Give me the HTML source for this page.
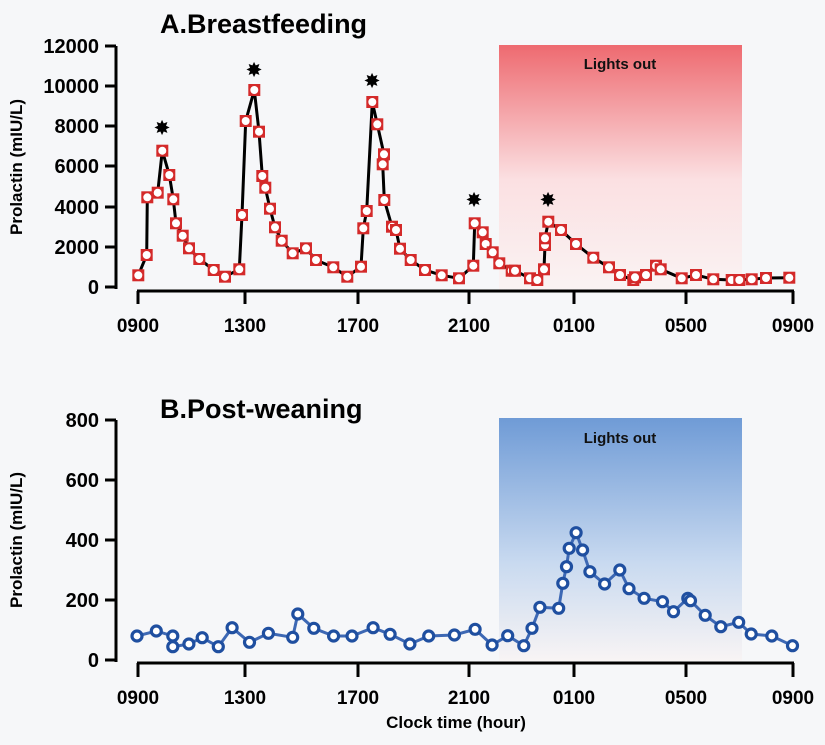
<!DOCTYPE html>
<html><head><meta charset="utf-8"><style>
html,body{margin:0;padding:0;background:#f6f7f9;}
svg{display:block;font-family:"Liberation Sans",sans-serif;font-weight:bold;}
</style></head><body>
<svg width="825" height="745" viewBox="0 0 825 745" xmlns="http://www.w3.org/2000/svg">
<defs>
<linearGradient id="gr" x1="0" y1="0" x2="0" y2="1">
<stop offset="0" stop-color="#ee6a70"/><stop offset="0.55" stop-color="#fbe0e2"/><stop offset="1" stop-color="#faf3f3"/></linearGradient>
<linearGradient id="gb" x1="0" y1="0" x2="0" y2="1">
<stop offset="0" stop-color="#6f9bd6"/><stop offset="0.6" stop-color="#c9daf0"/><stop offset="1" stop-color="#f8f4f4"/></linearGradient>
<g id="m"><rect x="-6" y="-6" width="12" height="12" fill="#d42a2a"/><circle r="4" fill="#fff"/></g>
</defs>
<rect width="825" height="745" fill="#f6f7f9"/>
<!-- Panel A -->
<rect x="499" y="45" width="243" height="245" fill="url(#gr)"/>
<text x="620" y="69" font-size="15" text-anchor="middle" fill="#111">Lights out</text>
<text x="160" y="33" font-size="27" fill="#000">A.Breastfeeding</text>
<g stroke="#000" stroke-width="3" fill="none">
<path d="M116 46V289 M105 46H116 M105 86H116 M105 126H116 M105 166H116 M105 207H116 M105 247H116 M105 287H116"/>
<path d="M137 291H794 M138 291V304 M245 291V304 M358 291V304 M469 291V304 M574 291V304 M686 291V304 M793 291V304"/>
</g>
<g font-size="20" text-anchor="end" fill="#000">
<text x="99" y="53">12000</text><text x="99" y="93">10000</text><text x="99" y="133">8000</text><text x="99" y="173">6000</text><text x="99" y="214">4000</text><text x="99" y="254">2000</text><text x="99" y="294">0</text>
</g>
<g font-size="19" text-anchor="middle" fill="#000">
<text x="138" y="332">0900</text><text x="245" y="332">1300</text><text x="358" y="332">1700</text><text x="469" y="332">2100</text><text x="574" y="332">0100</text><text x="686" y="332">0500</text><text x="793" y="332">0900</text>
</g>
<text transform="translate(22,167) rotate(-90)" font-size="17" text-anchor="middle">Prolactin (mIU/L)</text>
<polyline fill="none" stroke="#000" stroke-width="3" points="138.3,275.3 146.7,255 147.3,197.3 157.7,192.7 162.3,150.7 169.3,175 173.3,199.3 176,223.3 182.7,235.7 189,248.3 199.3,259 213.7,270 225,276.7 239.3,269.3 242,215 245.7,121 254.3,90 259,131.7 262.3,176 265.3,187.7 270,208.7 275,227.3 281.7,240.7 292.7,253.3 306,248.3 316,260 333.3,267.3 347.3,276.7 361,266.7 363.3,228.3 366.7,211 372.3,102 377.3,124.3 384,154.3 382.7,164.3 384.3,200 392,226.7 396,230 400,248.7 410.7,260 425,270 441.7,275.3 459,278.3 473.3,265.7 474.7,223.3 482.7,232.3 485.7,244 492.7,252.3 499.3,263.3 511.7,270.7 515,270.7 530,278.3 537.3,280 544,269.3 545,245 545,238.3 548.3,221.7 561,230 576,244 593.3,257.7 609,267.3 620,275 633.3,280 635,277.3 646,275 656,265.7 660.7,269.3 681.7,278.3 696,275 713.3,279.3 731.7,280 739.3,280 751.7,279.3 766,278 789.3,277.7"/>
<g>
<use href="#m" x="138.3" y="275.3"/><use href="#m" x="146.7" y="255"/><use href="#m" x="147.3" y="197.3"/><use href="#m" x="157.7" y="192.7"/><use href="#m" x="162.3" y="150.7"/><use href="#m" x="169.3" y="175"/><use href="#m" x="173.3" y="199.3"/><use href="#m" x="176" y="223.3"/><use href="#m" x="182.7" y="235.7"/><use href="#m" x="189" y="248.3"/><use href="#m" x="199.3" y="259"/><use href="#m" x="213.7" y="270"/><use href="#m" x="225" y="276.7"/><use href="#m" x="239.3" y="269.3"/><use href="#m" x="242" y="215"/><use href="#m" x="245.7" y="121"/><use href="#m" x="254.3" y="90"/><use href="#m" x="259" y="131.7"/><use href="#m" x="262.3" y="176"/><use href="#m" x="265.3" y="187.7"/><use href="#m" x="270" y="208.7"/><use href="#m" x="275" y="227.3"/><use href="#m" x="281.7" y="240.7"/><use href="#m" x="292.7" y="253.3"/><use href="#m" x="306" y="248.3"/><use href="#m" x="316" y="260"/><use href="#m" x="333.3" y="267.3"/><use href="#m" x="347.3" y="276.7"/><use href="#m" x="361" y="266.7"/><use href="#m" x="363.3" y="228.3"/><use href="#m" x="366.7" y="211"/><use href="#m" x="372.3" y="102"/><use href="#m" x="377.3" y="124.3"/><use href="#m" x="384" y="154.3"/><use href="#m" x="382.7" y="164.3"/><use href="#m" x="384.3" y="200"/><use href="#m" x="392" y="226.7"/><use href="#m" x="396" y="230"/><use href="#m" x="400" y="248.7"/><use href="#m" x="410.7" y="260"/><use href="#m" x="425" y="270"/><use href="#m" x="441.7" y="275.3"/><use href="#m" x="459" y="278.3"/><use href="#m" x="473.3" y="265.7"/><use href="#m" x="474.7" y="223.3"/><use href="#m" x="482.7" y="232.3"/><use href="#m" x="485.7" y="244"/><use href="#m" x="492.7" y="252.3"/><use href="#m" x="499.3" y="263.3"/><use href="#m" x="511.7" y="270.7"/><use href="#m" x="515" y="270.7"/><use href="#m" x="530" y="278.3"/><use href="#m" x="537.3" y="280"/><use href="#m" x="544" y="269.3"/><use href="#m" x="545" y="245"/><use href="#m" x="545" y="238.3"/><use href="#m" x="548.3" y="221.7"/><use href="#m" x="561" y="230"/><use href="#m" x="576" y="244"/><use href="#m" x="593.3" y="257.7"/><use href="#m" x="609" y="267.3"/><use href="#m" x="620" y="275"/><use href="#m" x="633.3" y="280"/><use href="#m" x="635" y="277.3"/><use href="#m" x="646" y="275"/><use href="#m" x="656" y="265.7"/><use href="#m" x="660.7" y="269.3"/><use href="#m" x="681.7" y="278.3"/><use href="#m" x="696" y="275"/><use href="#m" x="713.3" y="279.3"/><use href="#m" x="731.7" y="280"/><use href="#m" x="739.3" y="280"/><use href="#m" x="751.7" y="279.3"/><use href="#m" x="766" y="278"/><use href="#m" x="789.3" y="277.7"/>
</g>
<g font-size="18" text-anchor="middle" fill="#000">
<text x="162" y="134">✸</text><text x="254" y="76">✸</text><text x="372" y="87">✸</text><text x="474" y="206">✸</text><text x="548" y="206">✸</text>
</g>
<!-- Panel B -->
<rect x="499" y="418" width="243" height="243" fill="url(#gb)"/>
<text x="620" y="443" font-size="15" text-anchor="middle" fill="#111">Lights out</text>
<text x="160" y="418" font-size="27" fill="#000">B.Post-weaning</text>
<g stroke="#000" stroke-width="3" fill="none">
<path d="M116 420V662 M105 420H116 M105 480H116 M105 540H116 M105 600H116 M105 660H116"/>
<path d="M137 663H794 M138 663V677 M245 663V677 M358 663V677 M469 663V677 M574 663V677 M686 663V677 M793 663V677"/>
</g>
<g font-size="20" text-anchor="end" fill="#000">
<text x="99" y="427">800</text><text x="99" y="487">600</text><text x="99" y="547">400</text><text x="99" y="607">200</text><text x="99" y="667">0</text>
</g>
<g font-size="19" text-anchor="middle" fill="#000">
<text x="138" y="704">0900</text><text x="245" y="704">1300</text><text x="358" y="704">1700</text><text x="469" y="704">2100</text><text x="574" y="704">0100</text><text x="686" y="704">0500</text><text x="793" y="704">0900</text>
</g>
<text x="456" y="728" font-size="17" text-anchor="middle">Clock time (hour)</text>
<text transform="translate(22,540) rotate(-90)" font-size="17" text-anchor="middle">Prolactin (mIU/L)</text>
<polyline fill="none" stroke="#3d68b4" stroke-width="3" points="137,636 156.3,631 172.8,636 172.8,646.7 188.9,644 202.2,637.7 218.3,646.7 232.1,627.7 249.5,642.3 268.4,633.3 292.7,637.3 297.8,614 313.8,628.3 333.6,636 352,636 373.1,627.7 390.1,634.3 409.9,644 428.7,636 454.4,635 475.1,629.3 492.1,645 507.7,635.7 523.8,645.7 532,628.3 539.9,607.3 558.7,608.3 562.8,583.3 566.5,566.7 569.2,548.3 576.1,532.7 582.6,550 589.9,571.7 604.6,584 619.8,570 629,588.7 644.1,598.3 662.5,601.7 673.5,611.7 687.8,598.3 690.5,600.7 705.2,615.3 720.8,626.7 738.7,622.3 751.2,634 771.8,636 792.5,645.7"/>
<g fill="#fff" stroke="#1f4fa0" stroke-width="3.2">
<circle cx="137" cy="636" r="5"/><circle cx="156.3" cy="631" r="5"/><circle cx="172.8" cy="636" r="5"/><circle cx="172.8" cy="646.7" r="5"/><circle cx="188.9" cy="644" r="5"/><circle cx="202.2" cy="637.7" r="5"/><circle cx="218.3" cy="646.7" r="5"/><circle cx="232.1" cy="627.7" r="5"/><circle cx="249.5" cy="642.3" r="5"/><circle cx="268.4" cy="633.3" r="5"/><circle cx="292.7" cy="637.3" r="5"/><circle cx="297.8" cy="614" r="5"/><circle cx="313.8" cy="628.3" r="5"/><circle cx="333.6" cy="636" r="5"/><circle cx="352" cy="636" r="5"/><circle cx="373.1" cy="627.7" r="5"/><circle cx="390.1" cy="634.3" r="5"/><circle cx="409.9" cy="644" r="5"/><circle cx="428.7" cy="636" r="5"/><circle cx="454.4" cy="635" r="5"/><circle cx="475.1" cy="629.3" r="5"/><circle cx="492.1" cy="645" r="5"/><circle cx="507.7" cy="635.7" r="5"/><circle cx="523.8" cy="645.7" r="5"/><circle cx="532" cy="628.3" r="5"/><circle cx="539.9" cy="607.3" r="5"/><circle cx="558.7" cy="608.3" r="5"/><circle cx="562.8" cy="583.3" r="5"/><circle cx="566.5" cy="566.7" r="5"/><circle cx="569.2" cy="548.3" r="5"/><circle cx="576.1" cy="532.7" r="5"/><circle cx="582.6" cy="550" r="5"/><circle cx="589.9" cy="571.7" r="5"/><circle cx="604.6" cy="584" r="5"/><circle cx="619.8" cy="570" r="5"/><circle cx="629" cy="588.7" r="5"/><circle cx="644.1" cy="598.3" r="5"/><circle cx="662.5" cy="601.7" r="5"/><circle cx="673.5" cy="611.7" r="5"/><circle cx="687.8" cy="598.3" r="5"/><circle cx="690.5" cy="600.7" r="5"/><circle cx="705.2" cy="615.3" r="5"/><circle cx="720.8" cy="626.7" r="5"/><circle cx="738.7" cy="622.3" r="5"/><circle cx="751.2" cy="634" r="5"/><circle cx="771.8" cy="636" r="5"/><circle cx="792.5" cy="645.7" r="5"/>
</g>
</svg>
</body></html>
